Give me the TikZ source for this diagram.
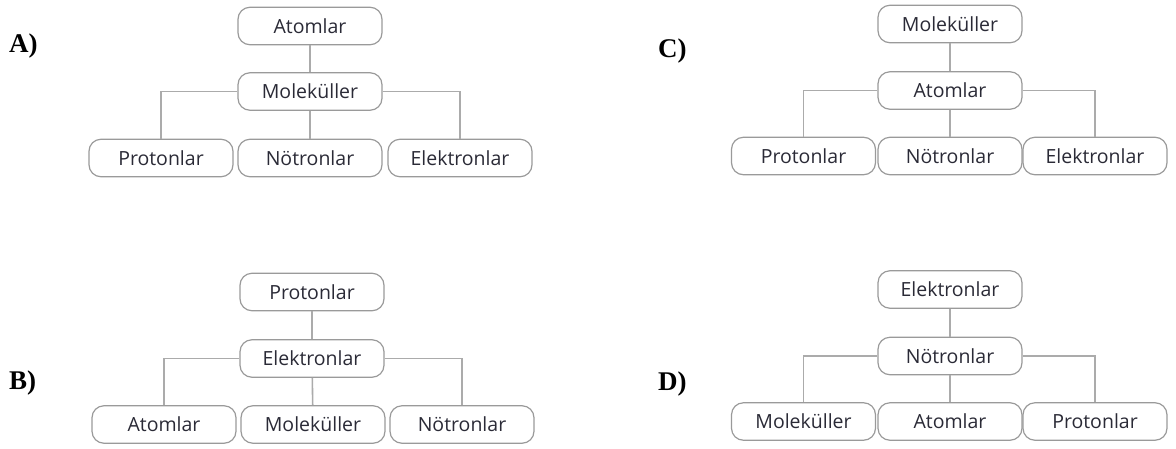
\documentclass[tikz,border=0pt]{standalone}
\usepackage{fontspec}
\setmainfont{Open Sans}
\newfontfamily\choicefont{Liberation Serif}
\begin{document}
\begin{tikzpicture}[x=1pt,y=-1pt,
  box/.style={draw=boxgray, line width=1.2pt, rounded corners=12pt,
    minimum width=144pt, minimum height=37.5pt, inner sep=0pt,
    text=textgray, font=\fontsize{19.5}{22}\selectfont},
  link/.style={draw=linegray, line width=1.6pt},
  choice/.style={anchor=base west, inner sep=0pt,
    font=\choicefont\bfseries\fontsize{27}{30}\selectfont}]
\definecolor{boxgray}{HTML}{9A9A9A}
\definecolor{linegray}{HTML}{ABABAB}
\definecolor{textgray}{HTML}{2A2A36}
\useasboundingbox (0,0) rectangle (1176,448);

% option A
\node[choice] (la) at (9,52) {A)};
\node[box] (at) at (310,26) {Atomlar};
\node[box] (am) at (310,91.5) {Moleküller};
\node[box] (a1) at (161,158) {Protonlar};
\node[box] (a2) at (310,158) {Nötronlar};
\node[box] (a3) at (460,158) {Elektronlar};
\draw[link] (at) -- (am);
\draw[link] (am) -- (a2);
\draw[link] (am.west) -| (a1.north);
\draw[link] (am.east) -| (a3.north);

% option B
\node[choice] (lb) at (9,389) {B)};
\node[box] (bt) at (312,292) {Protonlar};
\node[box] (bm) at (312,358.5) {Elektronlar};
\node[box] (b1) at (164,424.5) {Atomlar};
\node[box] (b2) at (313,424.5) {Moleküller};
\node[box] (b3) at (462,424.5) {Nötronlar};
\draw[link] (bt) -- (bm);
\draw[link] (bm) -- (b2);
\draw[link] (bm.west) -| (b1.north);
\draw[link] (bm.east) -| (b3.north);

% option C
\node[choice] (lc) at (658,57) {C)};
\node[box] (ct) at (950,24) {Moleküller};
\node[box] (cm) at (950,90.5) {Atomlar};
\node[box] (c1) at (803.5,156) {Protonlar};
\node[box] (c2) at (950,156) {Nötronlar};
\node[box] (c3) at (1095,156) {Elektronlar};
\draw[link] (ct) -- (cm);
\draw[link] (cm) -- (c2);
\draw[link] (cm.west) -| (c1.north);
\draw[link] (cm.east) -| (c3.north);

% option D
\node[choice] (ld) at (658,390) {D)};
\node[box] (dt) at (950,289.5) {Elektronlar};
\node[box] (dm) at (950,356) {Nötronlar};
\node[box] (d1) at (803.5,421.5) {Moleküller};
\node[box] (d2) at (950,421.5) {Atomlar};
\node[box] (d3) at (1095,421.5) {Protonlar};
\draw[link] (dt) -- (dm);
\draw[link] (dm) -- (d2);
\draw[link] (dm.west) -| (d1.north);
\draw[link] (dm.east) -| (d3.north);
\end{tikzpicture}
\end{document}
